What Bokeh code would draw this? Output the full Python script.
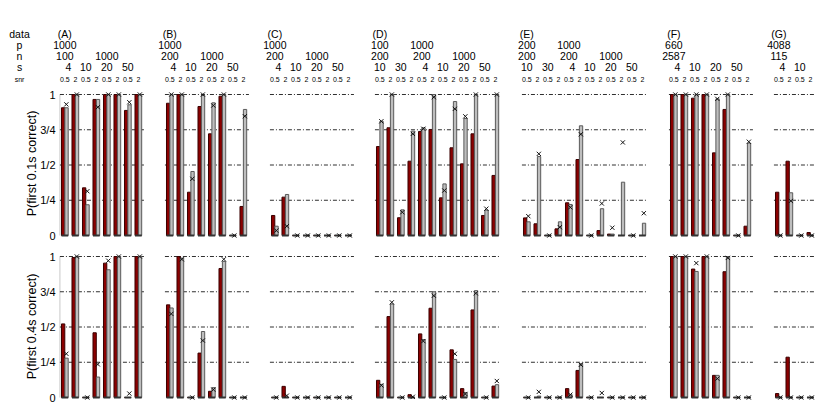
from bokeh.plotting import figure
from bokeh.layouts import column
from bokeh.models import Range1d, FixedTicker, ColumnDataSource
from bokeh.core.properties import value
from bokeh.embed import file_html
from bokeh.resources import INLINE

# ---------------- data ----------------
panel_names = ["(A)", "(B)", "(C)", "(D)", "(E)", "(F)", "(G)"]
s_values = [[4, 10, 20, 50], [4, 10, 20, 50], [4, 10, 20, 50],
            [10, 30, 4, 10, 20, 50], [10, 30, 4, 10, 20, 50],
            [4, 10, 20, 50], [4, 10]]
p_values = [[1000, 1000, 1000, 1000], [1000, 1000, 1000, 1000], [1000, 1000, 1000, 1000],
            [100, 100, 1000, 1000, 1000, 1000], [200, 200, 1000, 1000, 1000, 1000],
            [660, 660, 660, 660], [4088, 4088]]
n_values = [[100, 100, 1000, 1000], [200, 200, 1000, 1000], [200, 200, 1000, 1000],
            [200, 200, 200, 200, 1000, 1000], [200, 200, 200, 200, 1000, 1000],
            [2587, 2587, 2587, 2587], [115, 115]]
snr_levels = ["0.5", "2"]
row_names = ["data", "p", "n", "s", "snr"]
tick_values = [0, 0.25, 0.5, 0.75, 1]
tick_labels = ["0", "1/4", "1/2", "3/4", "1"]

# P(first 0.1s correct)
dark_01 = [
    [0.906, 1.0, 0.338, 0.965, 1.0, 1.0, 0.887, 1.0],
    [0.938, 1.0, 0.307, 0.915, 0.721, 0.988, 0.0, 0.206],
    [0.142, 0.272, 0, 0, 0, 0, 0, 0],
    [0.631, 0.764, 0.126, 0.527, 0.738, 0.752, 0.267, 0.622, 0.508, 0.721, 0.142, 0.426],
    [0.125, 0.083, 0, 0.047, 0.232, 0.539, 0, 0.035, 0.01, 0, 0, 0],
    [1.0, 1.0, 0.974, 1.0, 0.586, 0.894, 0, 0.066],
    [0.307, 0.527, 0, 0.021],
]
light_01 = [
    [0.906, 1.0, 0.218, 0.965, 1.0, 1.0, 0.927, 1.0],
    [1.0, 1.0, 0.454, 0.993, 0.941, 1.0, 0.0, 0.894],
    [0.066, 0.291, 0, 0, 0, 0, 0, 0],
    [0.81, 1.0, 0.182, 0.74, 0.764, 1.0, 0.366, 0.95, 0.83, 1.0, 0.18, 1.0],
    [0.097, 0.56, 0, 0.097, 0.22, 0.778, 0, 0.19, 0.01, 0.378, 0, 0.087],
    [1.0, 1.0, 1.0, 1.0, 0.969, 1.0, 0, 0.655],
    [0, 0.303, 0, 0],
]
cross_01 = [
    [0.93, 1.0, 0.314, 0.91, 1.0, 1.0, 0.945, 1.0],
    [1.0, 1.0, 0.402, 1.0, 0.922, 1.0, 0.0, 0.846],
    [0.035, 0.066, 0, 0, 0, 0, 0, 0],
    [0.81, 1.0, 0.165, 0.721, 0.757, 0.981, 0.319, 0.898, 0.845, 1.0, 0.19, 1.0],
    [0.137, 0.579, 0, 0.059, 0.2, 0.718, 0, 0.227, 0.055, 0.66, 0, 0.158],
    [1.0, 1.0, 1.0, 1.0, 0.969, 1.0, 0, 0.665],
    [0, 0.245, 0, 0],
]
# P(first 0.4s correct)
dark_04 = [
    [0.522, 0.993, 0, 0.459, 0.953, 1.0, 0, 1.0],
    [0.657, 1.0, 0, 0.315, 0.044, 0.915, 0, 0],
    [0, 0.079, 0, 0, 0, 0, 0, 0],
    [0.122, 0.574, 0, 0.02, 0.451, 0.633, 0, 0.338, 0.063, 0.621, 0, 0.081],
    [0, 0, 0, 0, 0.063, 0.192, 0, 0, 0, 0, 0, 0],
    [1.0, 1.0, 0.911, 1.0, 0.157, 0.892, 0, 0],
    [0.028, 0.286, 0, 0],
]
light_04 = [
    [0.279, 1.0, 0, 0.145, 0.906, 1.0, 0, 1.0],
    [0.635, 0.989, 0, 0.468, 0.07, 0.965, 0, 0],
    [0, 0, 0, 0, 0, 0, 0, 0],
    [0.093, 0.663, 0, 0, 0.411, 0.75, 0, 0.27, 0.035, 0.758, 0, 0.091],
    [0, 0.01, 0, 0, 0.02, 0.24, 0, 0, 0, 0, 0, 0],
    [1.0, 1.0, 0.894, 1.0, 0.157, 1.0, 0, 0],
    [0, 0, 0, 0],
]
cross_04 = [
    [0.31, 1.0, 0, 0.235, 0.97, 1.0, 0.028, 1.0],
    [0.593, 0.98, 0, 0.404, 0.056, 0.98, 0, 0],
    [0, 0.013, 0, 0, 0, 0, 0, 0],
    [0.086, 0.675, 0, 0.005, 0.4, 0.722, 0, 0.31, 0.025, 0.739, 0, 0.117],
    [0, 0.04, 0, 0, 0.02, 0.232, 0, 0.032, 0, 0, 0, 0],
    [1.0, 1.0, 0.953, 1.0, 0.134, 0.99, 0, 0],
    [0, 0, 0, 0],
]

# ---------------- layout helpers ----------------
FONT = "Liberation Sans"
GAP = 2
PX = 10.5            # pixels per column slot
FIRST = 61.0         # pixel of the first bar
FRAME_LEFT = 58
WIDTH = 822

starts = []
pos = 0
for s in s_values:
    starts.append(pos)
    pos += 2 * len(s) + GAP

x_lo = (FRAME_LEFT - FIRST) / PX
x_hi = (WIDTH - FIRST) / PX
xh_lo = (0 - FIRST) / PX

BW = 0.315
DARK_OFF = 0.157
LIGHT_OFF = 0.48
CROSS_OFF = 0.46
LABEL_OFF = 0.32

# ---------------- header (own root, full width frame) ----------------
HEADER_H = 85
hdr = figure(width=WIDTH, height=HEADER_H, x_range=Range1d(xh_lo, x_hi),
             y_range=Range1d(HEADER_H, 0), output_backend="svg", toolbar_location=None,
             x_axis_location=None, y_axis_location=None, min_border=0)
hdr.outline_line_color = None
hdr.grid.visible = False

row_y = [33.5, 44.5, 55.5, 66.5, 78.5]
big = dict(x=[], y=[], text=[], dx=[])
small = dict(x=[], y=[], text=[])
for k, name in enumerate(row_names):
    d = small if name == "snr" else big
    d["x"].append((19 - FIRST) / PX)
    d["y"].append(row_y[k])
    d["text"].append(name)
    if d is big:
        d["dx"].append(0)

for pi, name in enumerate(panel_names):
    st = starts[pi]
    big["x"].append(st + LABEL_OFF); big["y"].append(row_y[0]); big["text"].append(name); big["dx"].append(0)
    for gi, s in enumerate(s_values[pi]):
        cx = st + 2 * gi + LABEL_OFF
        if gi == 0 or p_values[pi][gi] != p_values[pi][gi - 1]:
            big["x"].append(cx); big["y"].append(row_y[1]); big["text"].append(str(p_values[pi][gi])); big["dx"].append(0)
        if gi == 0 or (p_values[pi][gi], n_values[pi][gi]) != (p_values[pi][gi - 1], n_values[pi][gi - 1]):
            big["x"].append(cx); big["y"].append(row_y[2]); big["text"].append(str(n_values[pi][gi])); big["dx"].append(0)
        big["x"].append(cx); big["y"].append(row_y[3]); big["text"].append(str(s))
        big["dx"].append(3.5 if len(str(s)) == 1 else 0)
        for si, snr in enumerate(snr_levels):
            small["x"].append(st + 2 * gi + si + LABEL_OFF)
            small["y"].append(row_y[4])
            small["text"].append(snr)

hdr.text(x="x", y="y", text="text", x_offset="dx", source=ColumnDataSource(big),
         text_font=value(FONT), text_font_size="10.5px", text_align="center",
         text_baseline="middle", text_color="#000000")
hdr.text(x="x", y="y", text="text", source=ColumnDataSource(small),
         text_font=value(FONT), text_font_size="7px", text_align="center",
         text_baseline="middle", text_color="#000000")


# ---------------- panels ----------------
def panel_fig(dark, light, cross, title, height, y_top, y_bot):
    p = figure(width=WIDTH, height=height, x_range=Range1d(x_lo, x_hi),
               y_range=Range1d(y_bot, y_top), output_backend="svg",
               toolbar_location=None, x_axis_location=None,
               min_border_left=FRAME_LEFT, min_border_right=0,
               min_border_top=0, min_border_bottom=0)
    p.outline_line_color = None
    p.grid.visible = False
    ax = p.yaxis[0]
    ax.ticker = FixedTicker(ticks=tick_values)
    ax.major_label_overrides = {float(v): l for v, l in zip(tick_values, tick_labels)}
    ax.bounds = (0, 1)
    ax.axis_line_color = None
    ax.major_tick_line_color = None
    ax.minor_tick_line_color = None
    ax.major_tick_out = 0
    ax.major_tick_in = 0
    ax.minor_tick_out = 0
    ax.major_label_standoff = 3
    ax.major_label_text_font = FONT
    ax.major_label_text_font_size = "11px"
    ax.major_label_text_color = "#000000"
    ax.axis_label = title
    ax.axis_label_standoff = -2
    ax.axis_label_text_font = FONT
    ax.axis_label_text_font_size = "12.5px"
    ax.axis_label_text_font_style = "normal"
    ax.axis_label_text_color = "#000000"

    # thin axis line
    p.segment(x0=[-0.15], y0=[0], x1=[-0.15], y1=[1], line_color="#c8c8c8", line_width=1)

    gx0, gx1, gy = [], [], []
    bx_d, bt_d, bx_l, bt_l, cx, cy, b0, b1 = [], [], [], [], [], [], [], []
    for pi in range(len(panel_names)):
        st = starts[pi]
        n = 2 * len(s_values[pi])
        for t in tick_values[1:]:
            gx0.append(st - 0.15); gx1.append(st + n - 0.15); gy.append(t)
        for c in range(n):
            x = st + c
            bx_d.append(x + DARK_OFF); bt_d.append(dark[pi][c])
            bx_l.append(x + LIGHT_OFF); bt_l.append(light[pi][c])
            cx.append(x + CROSS_OFF); cy.append(cross[pi][c])
            b0.append(x); b1.append(x + 0.64)
    p.segment(x0=gx0, y0=gy, x1=gx1, y1=gy, line_color="#303030", line_width=1,
              line_dash="4 2 1 2")
    p.vbar(x=bx_d, top=bt_d, bottom=0, width=BW, fill_color="#8b0000",
           line_color="#3a0000", line_width=1)
    p.vbar(x=bx_l, top=bt_l, bottom=0, width=BW, fill_color="#bebebe",
           line_color="#5a5a5a", line_width=1)
    p.segment(x0=b0, y0=[0] * len(b0), x1=b1, y1=[0] * len(b0),
              line_color="#333333", line_width=2)
    p.scatter(x=cx, y=cy, marker="x", size=6, line_color="#111111", line_width=1)
    return p


top = panel_fig(dark_01, light_01, cross_01, "P(first 0.1s correct)", 156,
                1 + 9 / 141, -6 / 141)
bottom = panel_fig(dark_04, light_04, cross_04, "P(first 0.4s correct)", 170,
                   1 + 15 / 141, -14 / 141)

panels = column(top, bottom, spacing=0)
open("out.html", "w").write(file_html([hdr, panels], INLINE))
